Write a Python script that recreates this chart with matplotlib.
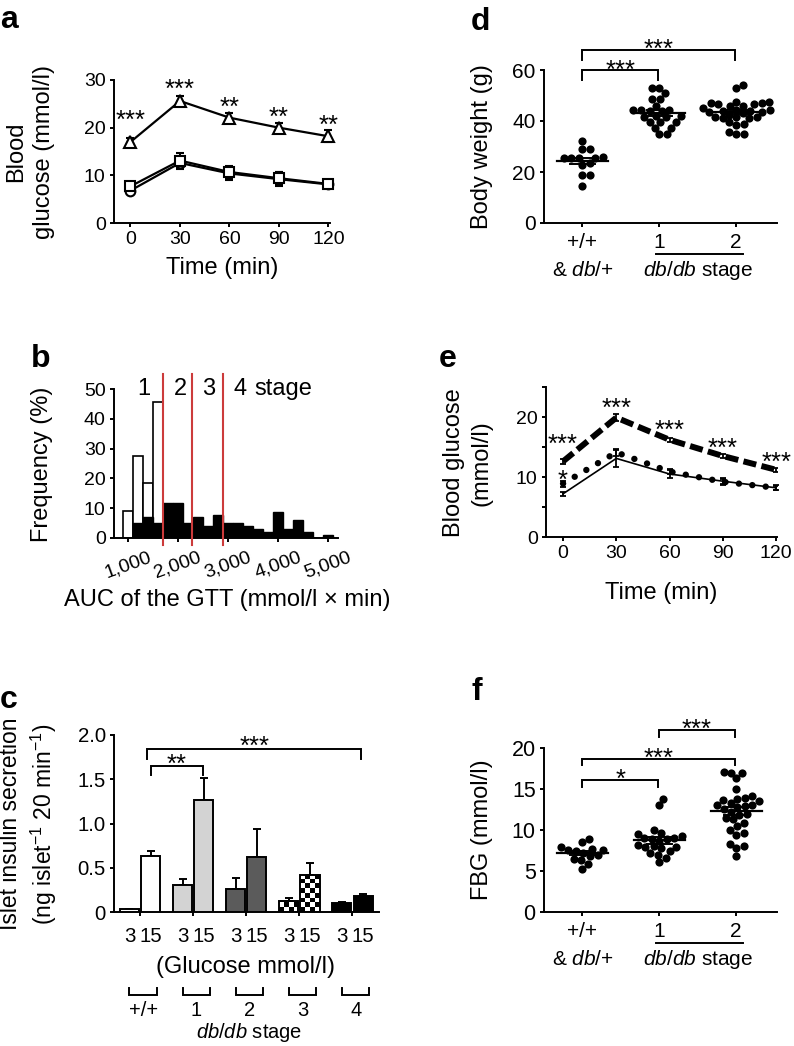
import numpy as np
import matplotlib
matplotlib.use('Agg')
import matplotlib.pyplot as plt
from matplotlib.transforms import offset_copy

plt.rcParams['font.family'] = ['Liberation Sans', 'DejaVu Sans']
plt.rcParams['mathtext.fontset'] = 'custom'
plt.rcParams['mathtext.rm'] = 'Liberation Sans'
plt.rcParams['mathtext.it'] = 'Liberation Sans:italic'
plt.rcParams['mathtext.bf'] = 'Liberation Sans:bold'
plt.rcParams['axes.linewidth'] = 1.4
plt.rcParams['xtick.major.width'] = 1.4
plt.rcParams['ytick.major.width'] = 1.4
plt.rcParams['xtick.major.size'] = 3
plt.rcParams['ytick.major.size'] = 3

# ---------------- data ----------------
time = [0, 30, 60, 90, 120]

# a: GTT, three genotypes
a_tri = [17.0, 25.6, 22.1, 20.0, 18.2]
a_tri_err = [0.8, 1.0, 1.0, 1.0, 1.3]
a_circ = [6.8, 12.6, 10.4, 9.2, 8.1]
a_circ_err = [0.6, 1.3, 1.4, 1.4, 0.5]
a_sq = [7.7, 13.1, 10.7, 9.4, 8.2]
a_sq_err = [0.6, 1.5, 1.3, 1.3, 0.5]
a_sig = ['***', '***', '**', '**', '**']
a_sig_y = [23.1, 29.6, 25.8, 23.7, 22.0]

# b: histogram of AUC
b_bin_left = [900, 1100, 1300, 1500, 1700, 1900, 2100, 2300, 2500, 2700, 2900,
              3100, 3300, 3500, 3700, 3900, 4100, 4300, 4500, 4700, 4900]
b_white = [9.2, 27.4, 18.3, 45.6, 0, 0, 0, 0, 0, 0, 0, 0, 0, 0, 0, 0, 0, 0, 0, 0, 0]
b_black = [0, 5.0, 6.9, 5.0, 11.7, 11.7, 5.0, 6.9, 4.1, 7.8, 5.0, 5.0, 4.1, 3.0,
           2.0, 8.7, 3.0, 5.9, 2.0, 0, 1.1]
b_cuts = [1700, 2290, 2910]
b_ticks = [1000, 2000, 3000, 4000, 5000]
b_ticklabels = ['1,000', '2,000', '3,000', '4,000', '5,000']
b_stage_labels = ['1', '2', '3', '4']
b_stage_x = [1330, 2065, 2620, 3240]

# c: islet insulin secretion
c_groups = ['+/+', '1', '2', '3', '4']
c_conc = ['3', '15']
c_low = [0.035, 0.30, 0.264, 0.124, 0.098]
c_low_err = [0.0, 0.075, 0.115, 0.036, 0.015]
c_high = [0.633, 1.265, 0.618, 0.418, 0.181]
c_high_err = [0.057, 0.245, 0.316, 0.135, 0.026]
c_colors = ['white', '#d3d3d3', '#5b5b5b', 'checker', 'black']

# d: body weight
d_ctrl = [32.2, 29.0, 29.0, 26.0, 25.5, 25.5, 25.3, 25.3, 23.5, 22.7, 19.0, 18.8, 14.5]
d_st1 = [52.8, 52.8, 50.8, 48.5, 48.5, 46.0, 44.0, 44.0, 44.2, 44.2, 44.2, 42.0,
         42.0, 41.5, 41.5, 39.7, 39.7, 39.5, 37.4, 37.4, 35.0, 35.0]
d_st2 = [54.0, 53.0, 47.5, 47.0, 46.5, 46.0, 46.5, 47.0, 47.5, 44.5, 44.0, 43.5,
         43.5, 44.0, 44.5, 43.0, 42.5, 41.5, 41.0, 41.5, 41.0, 41.5, 39.0, 39.5,
         38.5, 35.5, 35.0, 35.0, 45.0, 46.0]

# e: GTT by stage
e_solid = [7.2, 13.1, 10.5, 9.3, 8.2]
e_solid_err = [0.35, 1.4, 0.6, 0.6, 0.4]
e_dot = [8.9, 14.1, 10.9, 9.2, 8.2]
e_dot_err = [0.5, 0.6, 0.4, 0.4, 0.3]
e_dash = [12.6, 19.9, 16.2, 13.5, 11.2]
e_dash_err = [0.4, 0.6, 0.3, 0.3, 0.3]
e_sig_y = [16.7, 22.6, 19.0, 16.0, 13.7]

# f: fasting blood glucose
f_ctrl = [8.9, 8.5, 7.9, 7.7, 7.6, 7.6, 7.5, 7.2, 6.9, 6.8, 6.5, 6.3, 5.9, 5.3]
f_st1 = [13.8, 13.0, 10.0, 9.6, 9.5, 9.3, 9.0, 9.0, 8.9, 8.9, 8.7, 8.2, 8.0, 7.9,
         7.9, 7.8, 7.4, 7.2, 7.0, 6.6, 6.1]
f_st2 = [17.1, 17.0, 16.9, 16.3, 15.0, 14.1, 13.9, 13.8, 13.6, 13.5, 13.3, 13.0,
         13.0, 12.9, 12.8, 12.6, 12.2, 12.0, 11.8, 11.5, 11.3, 10.9, 10.5, 10.0,
         9.6, 9.4, 8.3, 8.0, 7.8, 6.8]

# ---------------- figure ----------------
W, H = 794, 1046
fig = plt.figure(figsize=(W / 100, H / 100), dpi=100)
LAB = 17
STAR = 18.5


def add_ax(l, t, r, b):
    ax = fig.add_axes([l / W, 1 - b / H, (r - l) / W, (b - t) / H])
    for s in ['top', 'right']:
        ax.spines[s].set_visible(False)
    ax.tick_params(direction='out')
    ax.px_h = b - t  # axes height in pixels
    return ax


def ftext(x, y, s, **kw):
    kw.setdefault('ha', 'center')
    kw.setdefault('va', 'center')
    kw.setdefault('fontsize', LAB)
    return fig.text(x / W, 1 - y / H, s, **kw)


def stars(ax, x, yc, s, fs=STAR):
    ax.annotate(s, (x, yc), xytext=(0, -0.575 * fs), textcoords='offset points',
                ha='center', va='baseline', fontsize=fs, annotation_clip=False)


def bracket(ax, x1, x2, y, h, s, yc):
    ax.plot([x1, x1, x2, x2], [y - h, y, y, y - h], color='k', lw=1.4, clip_on=False,
            solid_joinstyle='miter')
    stars(ax, (x1 + x2) / 2, yc, s)


def below(ax, dy):
    # axes-fraction y for a distance in pixels below the x axis
    return -dy / ax.px_h


def swarm(ax, xc, vals, diam):
    vals = np.asarray(vals, float)
    pts = ax.transData.transform(np.column_stack([np.full(len(vals), xc), vals]))
    placed = []
    off = np.zeros(len(vals))
    for i in np.argsort(vals):
        py = pts[i, 1]
        cands = [0.0]
        for qx, qy in placed:
            dy = py - qy
            if abs(dy) < diam:
                dx = np.sqrt(diam ** 2 - dy ** 2)
                cands += [qx + dx, qx - dx]
        cands.sort(key=abs)
        for c in cands:
            if all((c - qx) ** 2 + (py - qy) ** 2 >= diam ** 2 - 1e-6 for qx, qy in placed):
                break
        placed.append((c, py))
        off[i] = c
    px_per_x = ax.transData.transform((1, 0))[0] - ax.transData.transform((0, 0))[0]
    return xc + off / px_per_x


# ---- a ----
ax = add_ax(114, 80, 330, 223)
ax.set_xlim(-10, 121)
ax.set_ylim(0, 30)
for m, e, mk, ms in [(a_circ, a_circ_err, 'o', 7), (a_sq, a_sq_err, 's', 6.5),
                     (a_tri, a_tri_err, '^', 8)]:
    ax.errorbar(time, m, yerr=e, color='k', lw=1.6, marker=mk, ms=ms, mfc='white',
                mec='k', mew=1.5, capsize=3, capthick=1.4, elinewidth=1.4, clip_on=False)
for t, s, y in zip(time, a_sig, a_sig_y):
    stars(ax, t, y, s)
ax.set_xticks(time)
ax.set_yticks([0, 10, 20, 30])
ax.tick_params(labelsize=14, pad=3)
ftext(222, 268, 'Time (min)')
ftext(30, 152, 'Blood\nglucose (mmol/l)', rotation=90, linespacing=1.35)

# ---- b ----
ax = add_ax(114, 389, 338, 538)
ax.set_xlim(730, 5200)
ax.set_ylim(0, 50)
ax.bar(b_bin_left, b_white, width=200, align='edge', color='white', edgecolor='k', lw=1.2)
ax.bar(b_bin_left, b_black, width=200, align='edge', color='black', edgecolor='k', lw=1.0)
for xc in b_cuts:
    ax.plot([xc, xc], [-2.3, 55], color='#cc3b3b', lw=1.5, clip_on=False, zorder=5)
for s, x in zip(b_stage_labels, b_stage_x):
    ax.text(x, 48, s, ha='center', va='baseline', fontsize=LAB)
ax.text(3530, 48, 'stage', ha='left', va='baseline', fontsize=LAB)
ax.set_xticks(b_ticks)
ax.set_xticklabels(b_ticklabels, rotation=20, ha='center')
ax.set_yticks([0, 10, 20, 30, 40, 50])
ax.tick_params(labelsize=14, pad=3)
ax.tick_params(axis='x', pad=5)
ftext(227, 600, 'AUC of the GTT (mmol/l × min)')
ftext(42, 464, 'Frequency (%)', rotation=90)

# ---- c ----
ax = add_ax(114, 735, 379, 912)
ax.set_xlim(-0.49, 4.5)
ax.set_ylim(0, 2.0)
gx = np.arange(len(c_groups))
bw = 0.36
for i, col in enumerate(c_colors):
    for j, (v, e) in enumerate([(c_low[i], c_low_err[i]), (c_high[i], c_high_err[i])]):
        xb = gx[i] + (-0.2 if j == 0 else 0.2)
        ax.errorbar(xb, v, yerr=[[0], [e]], fmt='none', ecolor='k', elinewidth=1.4,
                    capsize=3.2, capthick=1.4, zorder=1)
        if col == 'checker':
            bar = ax.bar(xb, v, width=bw, facecolor='none', edgecolor='k', lw=1.4, zorder=3)[0]
            p0 = ax.transData.transform((xb - bw / 2, 0))
            p1 = ax.transData.transform((xb + bw / 2, v))
            cell = (p1[0] - p0[0]) / 4
            ny = int(np.ceil((p1[1] - p0[1]) / cell))
            grid = np.add.outer(np.arange(ny), np.arange(4)) % 2
            ytop = ny * cell * v / (p1[1] - p0[1])
            im = ax.imshow(grid, cmap='gray', extent=(xb - bw / 2, xb + bw / 2, 0, ytop),
                           origin='lower', interpolation='nearest', aspect='auto', zorder=2)
            im.set_clip_path(bar)
        else:
            ax.bar(xb, v, width=bw, color=col, edgecolor='k', lw=1.4, zorder=3)
ax.set_xlim(-0.49, 4.5)
ax.set_ylim(0, 2.0)
ax.set_xticks(gx)
ax.set_xticklabels([])
ax.set_xticks(np.concatenate([gx - 0.2, gx + 0.2]), minor=True)
ax.set_xticklabels(c_conc[:1] * 5 + c_conc[1:] * 5, minor=True)
ax.tick_params(axis='x', which='minor', length=0, labelsize=14.7, pad=11)
ax.set_yticks([0, 0.5, 1.0, 1.5, 2.0])
ax.set_yticklabels(['0', '0.5', '1.0', '1.5', '2.0'])
ax.tick_params(axis='y', labelsize=14.7, pad=3)
bracket(ax, 0.2, 1.19, 1.65, 0.10, '**', 1.75)
bracket(ax, 0.13, 4.17, 1.84, 0.11, '***', 1.95)
ftext(246, 967, '(Glucose mmol/l)')
ftext(29, 824, 'Islet insulin secretion\n(ng islet$^{-1}$ 20 min$^{-1}$)', rotation=90,
      linespacing=1.3, fontsize=16.5)
tr = ax.get_xaxis_transform()
y_top, y_bot = below(ax, 76), below(ax, 83)
for i, g in enumerate(c_groups):
    xc = gx[i] + 0.06
    ax.plot([xc - 0.26, xc - 0.26, xc + 0.26, xc + 0.26], [y_top, y_bot, y_bot, y_top],
            transform=tr, color='k', lw=1.4, clip_on=False, solid_joinstyle='miter')
    ax.text(xc, below(ax, 98), g, transform=tr, ha='center', va='center', fontsize=14.5)
ax.text(2.06, below(ax, 121), r'$\mathit{db/db}$ stage', transform=tr,
        ha='center', va='center', fontsize=14.5)


def scatter_panel(ax, groups, diam, mean_hw=0.33, sem_hw=0.16):
    for i, vals in enumerate(groups):
        xs = swarm(ax, i, vals, diam)
        ax.plot(xs, vals, 'o', color='k', ms=5.9, mew=0, clip_on=False, zorder=3)
        m = np.mean(vals)
        sem = np.std(vals, ddof=1) / np.sqrt(len(vals))
        ax.plot([i - mean_hw, i + mean_hw], [m, m], color='k', lw=1.6, zorder=4)
        for yy in (m - sem, m + sem):
            ax.plot([i - sem_hw, i + sem_hw], [yy, yy], color='k', lw=1.4, zorder=4)


def group_axis(ax, fs):
    ax.set_xticks([0, 1, 2])
    ax.set_xticklabels(['+/+', '1', '2'])
    ax.tick_params(axis='x', labelsize=fs, pad=4.5)
    tr = ax.get_xaxis_transform()
    ax.text(0, below(ax, 47.5), r'& $\mathit{db}$/+', transform=tr,
            ha='center', va='center', fontsize=fs)
    ax.text(1.5, below(ax, 47.5), r'$\mathit{db/db}$ stage', transform=tr,
            ha='center', va='center', fontsize=fs)
    ax.plot([0.96, 2.09], [below(ax, 30.5)] * 2, transform=tr,
            color='k', lw=1.4, clip_on=False)


# ---- d ----
ax = add_ax(544, 70, 777, 223)
ax.set_xlim(-0.5, 2.53)
ax.set_ylim(0, 60)
scatter_panel(ax, [d_ctrl, d_st1, d_st2], 7.6)
ax.set_yticks([0, 20, 40, 60])
ax.tick_params(axis='y', labelsize=15, pad=3)
group_axis(ax, 15)
bracket(ax, 0, 0.98, 60, 4, '***', 62.7)
bracket(ax, 0, 1.98, 67.8, 3.9, '***', 70.9)
ftext(482, 147, 'Body weight (g)', rotation=90)

# ---- e ----
ax = add_ax(546, 387, 777, 537)
ax.set_xlim(-9.6, 120.5)
ax.set_ylim(0, 25)
ax.errorbar(time, e_solid, yerr=e_solid_err, color='k', lw=1.2, capsize=2.5, capthick=1.3,
            elinewidth=1.3, clip_on=False)
ax.errorbar(time, e_dot, yerr=e_dot_err, fmt='none', ecolor='k', capsize=2.5, capthick=1.3,
            elinewidth=1.3)
ax.plot(time, e_dot, color='k', lw=4.6, dashes=(0.01, 2.1), dash_capstyle='round')
ax.errorbar(time, e_dash, yerr=e_dash_err, fmt='none', ecolor='k', capsize=2.5,
            capthick=1.3, elinewidth=1.3)
ax.plot(time, e_dash, color='k', lw=4.3, dashes=(2.2, 0.9))
for t, y in zip(time, e_sig_y):
    stars(ax, t, y, '***')
stars(ax, 0, 10.7, '*')
ax.set_xticks(time)
ax.set_yticks([0, 5, 10, 15, 20, 25])
ax.set_yticklabels(['0', '', '10', '', '20', ''])
ax.tick_params(labelsize=14, pad=3)
ftext(661, 593, 'Time (min)')
ftext(468, 463, 'Blood glucose\n(mmol/l)', rotation=90, linespacing=1.35)

# ---- f ----
ax = add_ax(544, 748, 777, 912)
ax.set_xlim(-0.5, 2.53)
ax.set_ylim(0, 20)
scatter_panel(ax, [f_ctrl, f_st1, f_st2], 7.6)
ax.set_yticks([0, 5, 10, 15, 20])
ax.tick_params(axis='y', labelsize=15.5, pad=3)
group_axis(ax, 15)
bracket(ax, 0, 0.98, 16.1, 0.8, '*', 17.1)
bracket(ax, 0, 1.98, 18.6, 0.7, '***', 19.6)
bracket(ax, 1.0, 1.98, 22.2, 0.8, '***', 23.2)
ftext(482, 830, 'FBG (mmol/l)', rotation=90)

# ---- panel letters ----
for s, x, y in [('a', 0, 28), ('b', 31, 367), ('c', 0, 708), ('d', 471, 30),
                ('e', 439, 367), ('f', 471, 700)]:
    ftext(x, y, s, ha='left', va='baseline', fontsize=23, fontweight='bold')

fig.savefig('out.png', dpi=100)
